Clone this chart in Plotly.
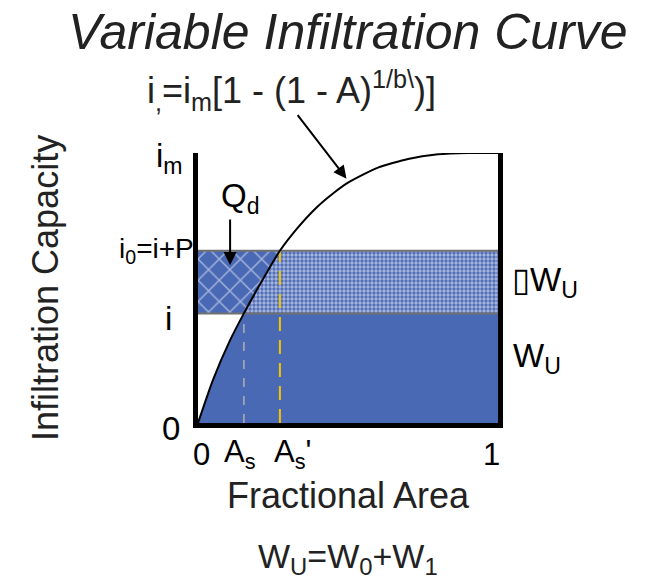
import plotly.graph_objects as go

# ---- data ----
CURVE_A = [0.0, 0.05, 0.107, 0.153, 0.21, 0.273, 0.33, 0.397, 0.45, 0.5, 0.55, 0.6, 0.7, 0.8, 0.9, 1.0]
CURVE_I = [0.0, 0.16, 0.307, 0.406, 0.52, 0.638, 0.72, 0.80, 0.85, 0.89, 0.92, 0.946, 0.978, 0.995, 1.0, 1.0]
I_LEVEL = 0.406      # i
I0_LEVEL = 0.638     # i0 = i + P
AS = 0.153           # A_s
AS_P = 0.273         # A_s'
Y_TICK_VALS = [1.0, I0_LEVEL, I_LEVEL, 0.0]
Y_TICK_TEXT = ["i<sub>m</sub>", "i<sub>0</sub>=i+P", "i", "0"]
X_TICK_VALS = [0.0, AS, AS_P, 1.0]
X_TICK_TEXT = ["0", "A<sub>s</sub>", "A<sub>s</sub>'", "1"]

BLUE = "#4A69B5"
FONT = "Liberation Sans, Arial, sans-serif"

k = CURVE_A.index(AS)
m = CURVE_A.index(AS_P)

fig = go.Figure()

# blue region under curve, below i
fig.add_trace(go.Scatter(
    x=CURVE_A[:k + 1] + [1.0, 1.0], y=CURVE_I[:k + 1] + [I_LEVEL, 0.0],
    fill="toself", fillcolor=BLUE, mode="none", hoverinfo="skip", showlegend=False))
# crosshatched Qd region
fig.add_trace(go.Scatter(
    x=[0.0] + CURVE_A[k:m + 1] + [0.0], y=[I_LEVEL] + CURVE_I[k:m + 1] + [I0_LEVEL],
    fill="toself", fillcolor=BLUE, mode="none", hoverinfo="skip", showlegend=False,
    fillpattern=dict(shape="x", bgcolor=BLUE, fgcolor="white", size=15, solidity=0.18)))
# dotted dW region
fig.add_trace(go.Scatter(
    x=CURVE_A[k:m + 1] + [1.0, 1.0], y=CURVE_I[k:m + 1] + [I0_LEVEL, I_LEVEL],
    fill="toself", fillcolor=BLUE, mode="none", hoverinfo="skip", showlegend=False,
    fillpattern=dict(shape=".", bgcolor=BLUE, fgcolor="white", size=4, solidity=0.55)))
# horizontal level lines
for lv in [I_LEVEL, I0_LEVEL]:
    fig.add_trace(go.Scatter(x=[0.0, 1.0], y=[lv, lv], mode="lines",
                             line=dict(color="#707070", width=2), hoverinfo="skip", showlegend=False))
# dashed verticals
fig.add_trace(go.Scatter(x=[AS, AS], y=[0.0, I_LEVEL], mode="lines",
                         line=dict(color="#b0b0b0", width=1.5, dash="dash"),
                         hoverinfo="skip", showlegend=False))
fig.add_trace(go.Scatter(x=[AS_P, AS_P], y=[0.0, I0_LEVEL], mode="lines",
                         line=dict(color="#F5C400", width=2, dash="14px,9px"),
                         hoverinfo="skip", showlegend=False))
# infiltration curve
fig.add_trace(go.Scatter(x=CURVE_A, y=CURVE_I, mode="lines",
                         line=dict(color="black", width=2, shape="spline", smoothing=0.6),
                         hoverinfo="skip", showlegend=False))

ann = []
TS = 33
XS = 31
# y labels
y_sizes = [TS, 28, TS, TS]
yshifts = [-5, 0, -5, -5]
xshifts = [-13, -2, -24, -16]
for v, t, ys, xs, sz in zip(Y_TICK_VALS, Y_TICK_TEXT, yshifts, xshifts, y_sizes):
    ann.append(dict(x=0, y=v, xref="x", yref="y", text=t, showarrow=False,
                    xanchor="right", yanchor="middle", xshift=xs, yshift=ys,
                    font=dict(size=sz, family=FONT, color="black")))
# x labels
for v, t, xs in zip(X_TICK_VALS, X_TICK_TEXT, [3, -4, 13, -7]):
    ann.append(dict(x=v, y=0, xref="x", yref="y", text=t, showarrow=False,
                    xanchor="center", yanchor="middle", xshift=xs, yshift=-31,
                    font=dict(size=XS, family=FONT, color="black")))

ann += [
    dict(x=0.5, y=1, xref="paper", yref="paper", yshift=121, text="<i>Variable Infiltration Curve</i>",
         showarrow=False, xanchor="center", yanchor="middle", font=dict(size=50, family=FONT, color="#222")),
    dict(x=0.313, y=1, xref="paper", yref="paper", yshift=63,
         text="i<sub>,</sub>=i<sub>m</sub>[1 - (1 - A)<sup>1/b\\</sup>)]",
         showarrow=False, xanchor="center", yanchor="middle", font=dict(size=36, family=FONT, color="#222")),
    dict(x=0.495, y=0.905, xref="x", yref="y", ax=-50, ay=-65, text="", showarrow=True,
         arrowhead=2, arrowsize=1.3, arrowwidth=2, arrowcolor="black"),
    dict(x=0.107, y=0.585, xref="x", yref="y", ax=0, ay=-47, text="", showarrow=True,
         arrowhead=2, arrowsize=1.3, arrowwidth=2, arrowcolor="black"),
    dict(x=0.143, y=0.833, xref="x", yref="y", text="Q<sub>d</sub>", showarrow=False,
         xanchor="center", yanchor="middle", font=dict(size=TS, family=FONT, color="black")),
    dict(x=1, y=(I_LEVEL + I0_LEVEL) / 2, xref="x", yref="y", text="▯W<sub>U</sub>", showarrow=False,
         xanchor="left", yanchor="middle", xshift=12, yshift=0, font=dict(size=TS, family=FONT, color="black")),
    dict(x=1, y=I_LEVEL / 2, xref="x", yref="y", text="W<sub>U</sub>", showarrow=False,
         xanchor="left", yanchor="middle", xshift=13, yshift=10, font=dict(size=TS, family=FONT, color="black")),
    dict(x=0.5, y=0, xref="paper", yref="paper", yshift=-72, text="Fractional Area", showarrow=False,
         xanchor="center", yanchor="middle", font=dict(size=36, family=FONT, color="#222")),
    dict(x=0.5, y=0, xref="paper", yref="paper", yshift=-135, text="W<sub>U</sub>=W<sub>0</sub>+W<sub>1</sub>",
         showarrow=False, xanchor="center", yanchor="middle", font=dict(size=34, family=FONT, color="#222")),
    dict(x=0, y=0.5, xref="paper", yref="paper", xshift=-153, text="Infiltration Capacity", textangle=-90,
         showarrow=False, xanchor="center", yanchor="middle", font=dict(size=36, family=FONT, color="#222")),
]

fig.update_layout(
    width=654, height=581,
    margin=dict(l=198, r=156, t=153, b=158),
    plot_bgcolor="white", paper_bgcolor="white",
    xaxis=dict(range=[0, 1], showgrid=False, zeroline=False, showticklabels=False, ticks="",
               showline=True, linecolor="black", linewidth=5),
    yaxis=dict(range=[0, 1], showgrid=False, zeroline=False, showticklabels=False, ticks="",
               showline=True, linecolor="black", linewidth=5, mirror=True),
    annotations=ann,
)

fig.write_html("out.html")
